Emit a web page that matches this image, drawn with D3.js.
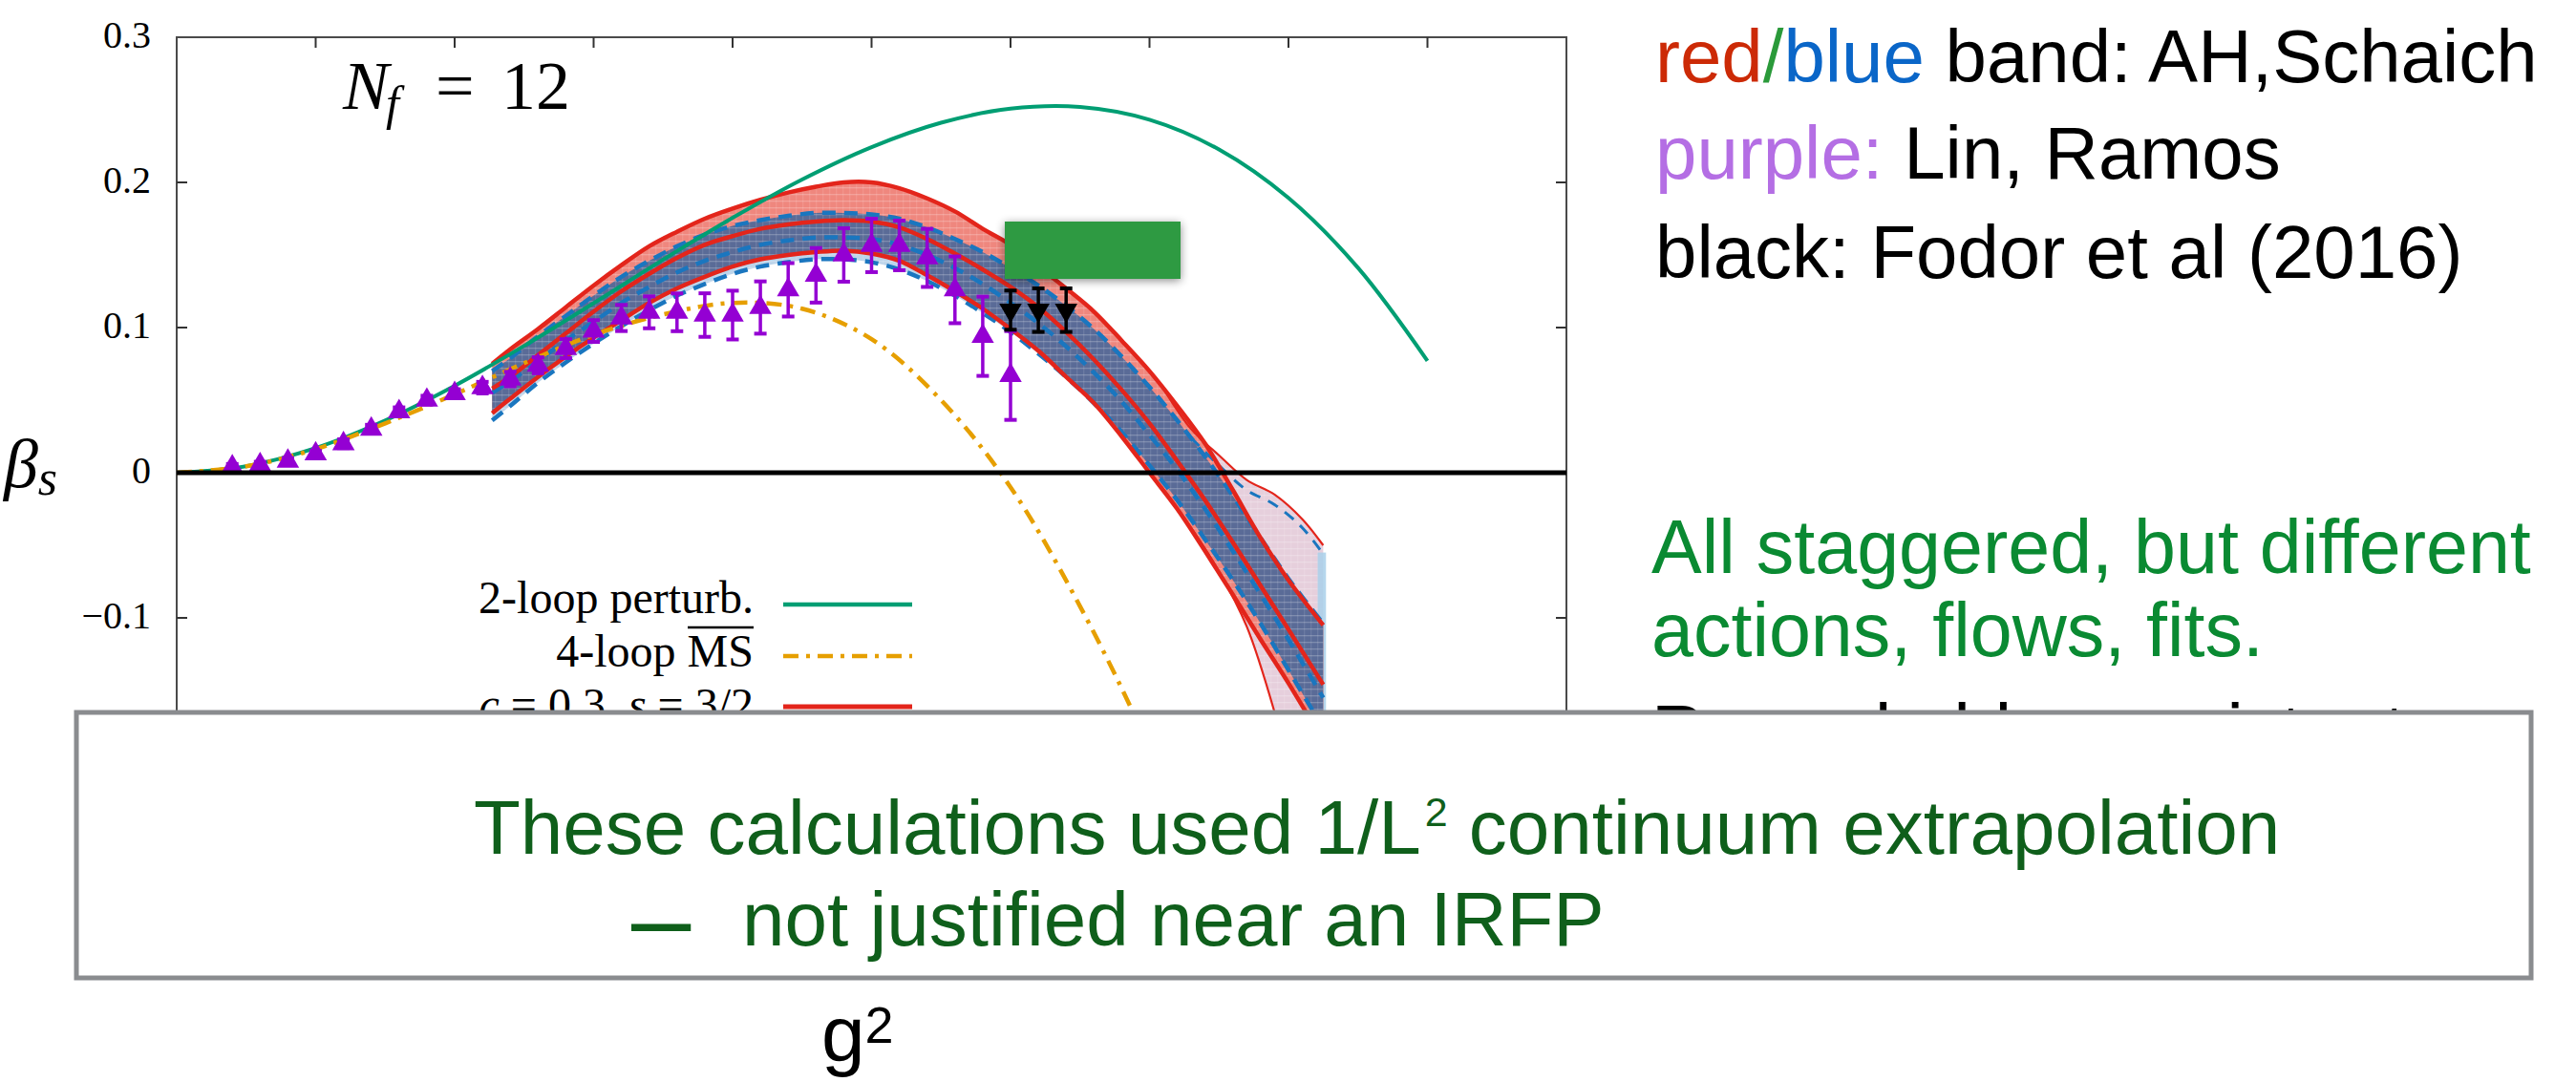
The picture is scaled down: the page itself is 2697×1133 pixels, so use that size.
<!DOCTYPE html>
<html>
<head>
<meta charset="utf-8">
<script src="https://cdn.jsdelivr.net/npm/d3@7"></script>
<style>
  html, body { margin: 0; padding: 0; background: #ffffff; }
  svg { display: block; }
</style>
</head>
<body>
<svg id="chart" width="2697" height="1133"></svg>
<script>
// ---------------- data ----------------
// 2-loop perturbative beta function
const twoLoopG2   = [0, 0.5, 1, 1.5, 2, 2.5, 3, 3.5, 4, 4.5, 5, 5.5, 6, 6.5, 7, 7.5, 8, 8.5, 9];
const twoLoopBeta = [0, 0.0045, 0.0170, 0.0360, 0.0599, 0.0874, 0.1168, 0.1468, 0.1756, 0.2020,
                     0.2243, 0.2411, 0.2508, 0.2520, 0.2432, 0.2227, 0.1893, 0.1412, 0.0771];

// 4-loop MS-bar beta function
const fourLoopG2   = [0, 0.5, 1, 1.5, 2, 2.5, 3, 3.5, 4, 4.5, 5, 5.5, 6, 6.5, 7, 7.5];
const fourLoopBeta = [0, 0.0044, 0.0163, 0.034, 0.054, 0.0755, 0.095, 0.109, 0.117, 0.113,
                      0.092, 0.050, -0.010, -0.092, -0.19, -0.31];

// AH, Schaich bands (red: c = 0.3, s = 3/2; blue: second flow)
const bandG2 = [2.27, 2.4, 2.6, 2.8, 3.0, 3.2, 3.4, 3.6, 3.8, 4.0, 4.2, 4.4, 4.6, 4.8, 5.0, 5.2,
                5.4, 5.6, 5.8, 6.0, 6.2, 6.4, 6.6, 6.8, 7.0, 7.2, 7.4, 7.6, 7.8, 8.0, 8.25];
const redUpper = [0.075, 0.085, 0.099, 0.114, 0.129, 0.143, 0.156, 0.166, 0.175, 0.182, 0.188, 0.193,
                  0.197, 0.200, 0.200, 0.196, 0.189, 0.180, 0.168, 0.157, 0.142, 0.127, 0.111, 0.091,
                  0.070, 0.046, 0.020, -0.012, -0.045, -0.074, -0.105];
const redMid   = [0.058, 0.066, 0.081, 0.096, 0.111, 0.125, 0.137, 0.148, 0.157, 0.163, 0.168, 0.171,
                  0.173, 0.174, 0.173, 0.169, 0.161, 0.151, 0.140, 0.128, 0.114, 0.097, 0.078, 0.057,
                  0.034, 0.008, -0.019, -0.048, -0.078, -0.108, -0.146];
const redLower = [0.041, 0.051, 0.066, 0.080, 0.093, 0.105, 0.117, 0.127, 0.135, 0.142, 0.147, 0.150,
                  0.152, 0.153, 0.151, 0.146, 0.136, 0.125, 0.113, 0.099, 0.084, 0.066, 0.048, 0.025,
                  0.000, -0.025, -0.054, -0.084, -0.115, -0.145, -0.185];
const blueUpper = [0.070, 0.079, 0.094, 0.108, 0.122, 0.135, 0.146, 0.156, 0.164, 0.170, 0.174, 0.177,
                   0.179, 0.179, 0.178, 0.175, 0.169, 0.161, 0.152, 0.141, 0.129, 0.115, 0.099, 0.080,
                   0.059, 0.036, 0.011, -0.016, -0.045, -0.073, -0.104];
const blueMid   = [0.055, 0.063, 0.077, 0.091, 0.104, 0.117, 0.128, 0.138, 0.146, 0.152, 0.157, 0.160,
                   0.162, 0.162, 0.161, 0.157, 0.150, 0.141, 0.130, 0.117, 0.103, 0.087, 0.069, 0.049,
                   0.026, 0.002, -0.025, -0.054, -0.084, -0.115, -0.155];
const blueLower = [0.036, 0.046, 0.062, 0.076, 0.089, 0.101, 0.112, 0.122, 0.130, 0.137, 0.142, 0.145,
                   0.147, 0.147, 0.145, 0.140, 0.132, 0.122, 0.110, 0.097, 0.082, 0.066, 0.048, 0.028,
                   0.005, -0.019, -0.046, -0.074, -0.104, -0.136, -0.176];

// wider tail of the band at strong coupling
const tailG2    = [7.1, 7.3, 7.5, 7.7, 7.9, 8.1, 8.25];
const tailUpper = [0.058, 0.030, 0.012, -0.005, -0.015, -0.032, -0.050];
const tailDash  = [0.052, 0.024, 0.005, -0.012, -0.022, -0.038, -0.056];
const tailLower = [-0.012, -0.038, -0.068, -0.106, -0.165, -0.24, -0.30];

// Lin, Ramos data
const linG2   = [0.4, 0.6, 0.8, 1.0, 1.2, 1.4, 1.6, 1.8, 2.0, 2.2, 2.4, 2.6, 2.8, 3.0, 3.2,
                 3.4, 3.6, 3.8, 4.0, 4.2, 4.4, 4.6, 4.8, 5.0, 5.2, 5.4, 5.6, 5.8, 6.0];
const linBeta = [0.004, 0.0055, 0.008, 0.013, 0.020, 0.030, 0.042, 0.050, 0.0545, 0.0586, 0.0645,
                 0.074, 0.0855, 0.0976, 0.1066, 0.1105, 0.1105, 0.1086, 0.1086, 0.1138, 0.126,
                 0.136, 0.150, 0.1566, 0.1566, 0.148, 0.126, 0.094, 0.067];
const linErr  = [0.002, 0.002, 0.002, 0.002, 0.003, 0.003, 0.003, 0.003, 0.003, 0.004, 0.005,
                 0.0055, 0.0065, 0.0075, 0.009, 0.011, 0.013, 0.015, 0.0168, 0.018, 0.0184,
                 0.0188, 0.0184, 0.0184, 0.0171, 0.020, 0.023, 0.0273, 0.0306];

// Fodor et al (2016)
const fodorG2   = [6.0, 6.2, 6.4];
const fodorBeta = [0.112, 0.112, 0.112];
const fodorErr  = [0.0135, 0.015, 0.015];

// axes
const xTickValues = [1, 2, 3, 4, 5, 6, 7, 8, 9];
const yTickValues = [-0.2, -0.1, 0, 0.1, 0.2];
const yLabelValues = [0.3, 0.2, 0.1, 0, -0.1];
const yLabelTexts  = ["0.3", "0.2", "0.1", "0", "\u22120.1"];

// ---------------- layout ----------------
const svg = d3.select("#chart");
const plot = { left: 185, right: 1640, top: 39, bottom: 951 };
const x = d3.scaleLinear().domain([0, 10]).range([plot.left, plot.right]);
const y = d3.scaleLinear().domain([-0.3, 0.3]).range([plot.bottom, plot.top]);

const RED = "#e3251b", BLUE = "#1a76bf", GREEN = "#009e73", ORANGE = "#e69f00", PURPLE = "#9400d3";

const defs = svg.append("defs");
defs.append("clipPath").attr("id", "plotClip")
  .append("rect").attr("x", plot.left).attr("y", plot.top)
  .attr("width", plot.right - plot.left).attr("height", plot.bottom - plot.top);
const tex = defs.append("pattern").attr("id", "tex").attr("patternUnits", "userSpaceOnUse")
  .attr("width", 7).attr("height", 7);
tex.append("rect").attr("width", 7).attr("height", 1.3).attr("fill", "#ffffff").attr("opacity", 0.22);
tex.append("rect").attr("width", 1.3).attr("height", 7).attr("fill", "#ffffff").attr("opacity", 0.10);
const shadow = defs.append("filter").attr("id", "shadow")
  .attr("x", "-20%").attr("y", "-30%").attr("width", "140%").attr("height", "160%");
shadow.append("feDropShadow").attr("dx", 0).attr("dy", 2).attr("stdDeviation", 5)
  .attr("flood-color", "#000").attr("flood-opacity", 0.45);

// ---------------- frame & ticks ----------------
const frame = svg.append("g");
frame.append("rect").attr("x", plot.left).attr("y", plot.top)
  .attr("width", plot.right - plot.left).attr("height", plot.bottom - plot.top)
  .attr("fill", "none").attr("stroke", "#4a4a4a").attr("stroke-width", 2);
frame.selectAll(".xt").data(xTickValues).enter().append("line")
  .attr("x1", d => x(d)).attr("x2", d => x(d))
  .attr("y1", plot.top).attr("y2", plot.top + 11)
  .attr("stroke", "#333").attr("stroke-width", 2);
frame.selectAll(".ytl").data(yTickValues).enter().append("line")
  .attr("x1", plot.left).attr("x2", plot.left + 11)
  .attr("y1", d => y(d)).attr("y2", d => y(d))
  .attr("stroke", "#333").attr("stroke-width", 2);
frame.selectAll(".ytr").data(yTickValues).enter().append("line")
  .attr("x1", plot.right - 11).attr("x2", plot.right)
  .attr("y1", d => y(d)).attr("y2", d => y(d))
  .attr("stroke", "#333").attr("stroke-width", 2);
frame.selectAll(".yl").data(yLabelValues).enter().append("text")
  .attr("x", 158).attr("y", d => y(d) - 3)
  .attr("dominant-baseline", "central").attr("text-anchor", "end")
  .attr("font-family", "'Liberation Serif', 'Times New Roman', serif")
  .attr("font-size", 40).attr("fill", "#000")
  .text((d, i) => yLabelTexts[i]);

// ---------------- bands ----------------
const g = svg.append("g").attr("clip-path", "url(#plotClip)");
const curve = d3.curveCatmullRom.alpha(0.5);
const band = bandG2.map((v, i) => ({
  g: v, ru: redUpper[i], rm: redMid[i], rl: redLower[i],
  bu: blueUpper[i], bm: blueMid[i], bl: blueLower[i]
}));
const tail = tailG2.map((v, i) => ({ g: v, u: tailUpper[i], d: tailDash[i], l: tailLower[i] }));

const area = (lo, hi) => d3.area().x(d => x(d.g)).y0(d => y(lo(d))).y1(d => y(hi(d))).curve(curve);
const line = (f) => d3.line().x(d => x(d.g)).y(d => y(f(d))).curve(curve);

// tail of the band
g.append("path").datum(tail).attr("d", area(d => d.l, d => d.u))
  .attr("fill", "#e6cfdc");
g.append("path").datum(tail).attr("d", area(d => d.l, d => d.u))
  .attr("fill", "url(#tex)");
g.append("rect")
  .attr("x", x(8.21)).attr("width", x(8.27) - x(8.21))
  .attr("y", y(-0.055)).attr("height", y(-0.3) - y(-0.055))
  .attr("fill", "#a9d0ea").attr("opacity", 0.85);

// blue band alone
g.append("path").datum(band).attr("d", area(d => d.bl, d => d.bu)).attr("fill", "#bcd4ea");
// red band
g.append("path").datum(band).attr("d", area(d => d.rl, d => d.ru)).attr("fill", "#ef877e");
// overlap of both bands
g.append("path").datum(band)
  .attr("d", area(d => Math.max(d.bl, d.rl), d => Math.min(d.bu, d.ru)))
  .attr("fill", "#5a6b97");
g.append("path").datum(band)
  .attr("d", area(d => Math.min(d.bl, d.rl), d => Math.max(d.bu, d.ru)))
  .attr("fill", "url(#tex)");

// band outlines
[["u", 2.2], ["l", 2.2]].forEach(([k, w]) => {
  g.append("path").datum(tail).attr("d", line(d => d[k]))
    .attr("fill", "none").attr("stroke", RED).attr("stroke-width", w);
});
g.append("path").datum(tail.slice(1)).attr("d", line(d => d.d))
  .attr("fill", "none").attr("stroke", BLUE).attr("stroke-width", 3)
  .attr("stroke-dasharray", "12,9");

["bu", "bm", "bl"].forEach(k => {
  g.append("path").datum(band).attr("d", line(d => d[k]))
    .attr("fill", "none").attr("stroke", BLUE).attr("stroke-width", 4.5)
    .attr("stroke-dasharray", "14,9");
});
["ru", "rm", "rl"].forEach(k => {
  g.append("path").datum(band).attr("d", line(d => d[k]))
    .attr("fill", "none").attr("stroke", RED).attr("stroke-width", 4.5);
});

// zero line
svg.append("line").attr("x1", plot.left).attr("x2", plot.right)
  .attr("y1", y(0)).attr("y2", y(0))
  .attr("stroke", "#000").attr("stroke-width", 5);

// ---------------- perturbative curves ----------------
const curveLine = d3.line().x(d => x(d[0])).y(d => y(d[1])).curve(curve);
g.append("path").datum(twoLoopG2.map((v, i) => [v, twoLoopBeta[i]]))
  .attr("d", curveLine).attr("fill", "none").attr("stroke", GREEN).attr("stroke-width", 4);
g.append("path").datum(fourLoopG2.map((v, i) => [v, fourLoopBeta[i]]))
  .attr("d", curveLine).attr("fill", "none").attr("stroke", ORANGE).attr("stroke-width", 4.5)
  .attr("stroke-dasharray", "16,8,4,8");

// ---------------- data points ----------------
function errorPoints(gx, by, be, color, down) {
  const pts = gx.map((v, i) => ({ g: v, b: by[i], e: be[i] }));
  const grp = g.append("g");
  const eb = grp.selectAll(".eb").data(pts).enter().append("g");
  eb.append("line")
    .attr("x1", d => x(d.g)).attr("x2", d => x(d.g))
    .attr("y1", d => y(d.b - d.e)).attr("y2", d => y(d.b + d.e))
    .attr("stroke", color).attr("stroke-width", 3.5);
  [-1, 1].forEach(s => {
    eb.append("line")
      .attr("x1", d => x(d.g) - 6.5).attr("x2", d => x(d.g) + 6.5)
      .attr("y1", d => y(d.b + s * d.e)).attr("y2", d => y(d.b + s * d.e))
      .attr("stroke", color).attr("stroke-width", 4);
  });
  eb.append("path")
    .attr("d", d3.symbol(d3.symbolTriangle, 240))
    .attr("transform", d => `translate(${x(d.g)},${y(d.b)})` + (down ? " rotate(180)" : ""))
    .attr("fill", color);
}
errorPoints(linG2, linBeta, linErr, PURPLE, false);
errorPoints(fodorG2, fodorBeta, fodorErr, "#000000", true);

// highlighted block
svg.append("rect").attr("x", 1052).attr("y", 232).attr("width", 184).attr("height", 60)
  .attr("fill", "#2f9a42").attr("filter", "url(#shadow)");

// ---------------- labels inside the plot ----------------
const serif = "'Liberation Serif', 'Times New Roman', serif";
const nf = svg.append("g").attr("font-family", serif).attr("fill", "#000");
nf.append("text").attr("x", 359).attr("y", 114).attr("font-size", 72).attr("font-style", "italic").text("N");
nf.append("text").attr("x", 404).attr("y", 125).attr("font-size", 50).attr("font-style", "italic").text("f");
nf.append("text").attr("x", 456).attr("y", 114).attr("font-size", 72).text("=");
nf.append("text").attr("x", 525).attr("y", 114).attr("font-size", 72).text("12");

const beta = svg.append("text").attr("x", 4).attr("y", 510)
  .attr("font-family", serif).attr("font-style", "italic").attr("fill", "#000");
beta.append("tspan").attr("font-size", 72).text("\u03B2");
beta.append("tspan").attr("font-size", 52).attr("dy", 8).text("s");

// legend
const leg = svg.append("g").attr("font-family", serif).attr("font-size", 48).attr("fill", "#000");
leg.append("text").attr("x", 789).attr("y", 642).attr("text-anchor", "end").text("2-loop perturb.");
leg.append("text").attr("x", 789).attr("y", 698).attr("text-anchor", "end").text("4-loop MS");
leg.append("line").attr("x1", 720).attr("x2", 789).attr("y1", 657).attr("y2", 657)
  .attr("stroke", "#000").attr("stroke-width", 2.5);
const leg3 = leg.append("text").attr("x", 789).attr("y", 754).attr("text-anchor", "end");
leg3.append("tspan").attr("font-style", "italic").text("c");
leg3.append("tspan").text(" = 0.3, ");
leg3.append("tspan").attr("font-style", "italic").text("s");
leg3.append("tspan").text(" = 3/2");
leg.append("line").attr("x1", 820).attr("x2", 955).attr("y1", 633).attr("y2", 633)
  .attr("stroke", GREEN).attr("stroke-width", 4.5);
leg.append("line").attr("x1", 820).attr("x2", 955).attr("y1", 687).attr("y2", 687)
  .attr("stroke", ORANGE).attr("stroke-width", 4.5).attr("stroke-dasharray", "16,8,4,8");
leg.append("line").attr("x1", 820).attr("x2", 955).attr("y1", 740).attr("y2", 740)
  .attr("stroke", RED).attr("stroke-width", 5);

// ---------------- side notes ----------------
const sans = "'Liberation Sans', Arial, Helvetica, sans-serif";
const notes = svg.append("g").attr("font-family", sans).attr("font-size", 78);
const n1 = notes.append("text").attr("x", 1733).attr("y", 86);
n1.append("tspan").attr("fill", "#cc2a06").text("red");
n1.append("tspan").attr("fill", "#2a9a3a").text("/");
n1.append("tspan").attr("fill", "#0a66c8").text("blue");
n1.append("tspan").attr("fill", "#000").text(" band: AH,Schaich");
const n2 = notes.append("text").attr("x", 1733).attr("y", 187);
n2.append("tspan").attr("fill", "#b46ee4").text("purple:");
n2.append("tspan").attr("fill", "#000").text(" Lin, Ramos");
notes.append("text").attr("x", 1733).attr("y", 291).attr("fill", "#000").text("black: Fodor et al (2016)");
notes.append("text").attr("x", 1729).attr("y", 600).attr("font-size", 79).attr("fill", "#0a8a32").text("All staggered, but different");
notes.append("text").attr("x", 1729).attr("y", 687).attr("font-size", 79).attr("fill", "#0a8a32").text("actions, flows, fits.");
notes.append("text").attr("x", 1729).attr("y", 792).attr("fill", "#000").text("Remarkably consistent.");

// ---------------- caveat box ----------------
svg.append("rect").attr("x", 80).attr("y", 746).attr("width", 2570).attr("height", 278)
  .attr("fill", "#ffffff").attr("stroke", "#8a8c8f").attr("stroke-width", 5);
const boxText = svg.append("g").attr("font-family", sans).attr("fill", "#0f5f1b");
const b1 = boxText.append("text").attr("x", 496).attr("y", 894).attr("font-size", 80);
b1.append("tspan").text("These calculations used 1/L");
b1.append("tspan").attr("font-size", 43).attr("dy", -29).attr("dx", 4).text("2");
b1.append("tspan").attr("dy", 29).text(" continuum extrapolation");
boxText.append("text").attr("x", 661).attr("y", 1000).attr("font-size", 112).text("\u2013");
boxText.append("text").attr("x", 777).attr("y", 990).attr("font-size", 80).text("not justified near an IRFP");

// x-axis title
const gx = svg.append("text").attr("x", 860).attr("y", 1111)
  .attr("font-family", sans).attr("fill", "#000");
gx.append("tspan").attr("font-size", 82).text("g");
gx.append("tspan").attr("font-size", 54).attr("dy", -19).text("2");
</script>
</body>
</html>
